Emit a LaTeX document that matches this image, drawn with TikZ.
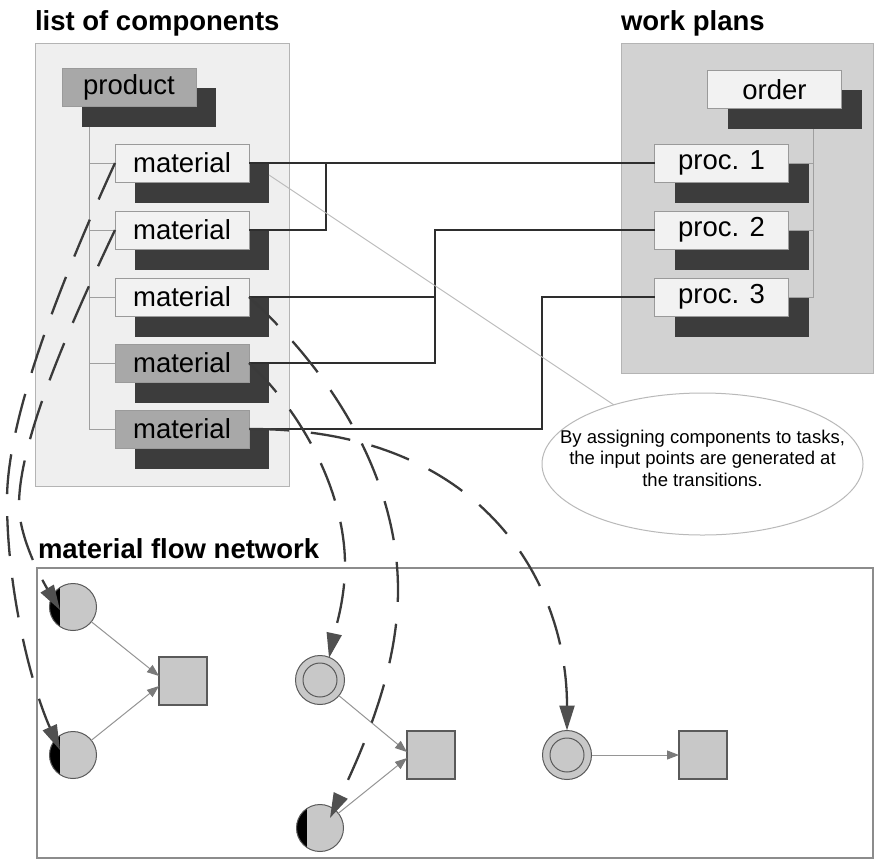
\documentclass[tikz,border=0pt]{standalone}
\usepackage{fontspec}
\setmainfont{Liberation Sans}
\usetikzlibrary{arrows.meta,shapes.geometric,calc}
\pgfdeclarelayer{bg}
\pgfsetlayers{bg,main}
\definecolor{panelA}{HTML}{EFEFEF}
\definecolor{panelB}{HTML}{D2D2D2}
\definecolor{panelline}{HTML}{B4B4B4}
\definecolor{boxlight}{HTML}{F2F2F2}
\definecolor{boxmid}{HTML}{A8A8A8}
\definecolor{boxline}{HTML}{9A9A9A}
\definecolor{shadowc}{HTML}{3C3C3C}
\definecolor{linkc}{HTML}{2E2E2E}
\definecolor{dashc}{HTML}{3A3A3A}
\definecolor{tipc}{HTML}{505050}
\definecolor{nodefill}{HTML}{C8C8C8}
\definecolor{nodeline}{HTML}{5A5A5A}
\definecolor{flowc}{HTML}{959595}
\definecolor{flowtip}{HTML}{7A7A7A}
\definecolor{netline}{HTML}{8C8C8C}
\begin{document}
\begin{tikzpicture}[x=1pt,y=-1pt,
  every node/.style={inner sep=0pt, outer sep=0pt},
  title/.style={font=\fontsize{27.5}{30}\selectfont\bfseries, anchor=base west},
  panel/.style={draw=panelline, line width=1pt},
  box/.style={draw=boxline, line width=0.8pt, minimum width=134pt, minimum height=38pt, font=\fontsize{27.5}{30}\selectfont},
  lightbox/.style={box, fill=boxlight},
  midbox/.style={box, fill=boxmid},
  shadowbox/.style={fill=shadowc, minimum width=134pt, minimum height=39pt},
  treeline/.style={draw=gray!75, line width=0.9pt},
  linkline/.style={draw=linkc, line width=2.5pt},
  flowarrow/.style={draw=flowc, line width=1pt, -{Triangle[length=12pt,width=9pt,color=flowtip]}},
  dasharrow/.style={draw=dashc, line width=2.3pt, dash pattern=on 40pt off 22pt, -{Triangle[length=25pt,width=15pt,color=tipc]}},
  place/.style={circle, minimum size=47pt, fill=nodefill, draw=nodeline, line width=1pt},
  halfblack/.style={place, path picture={\fill[black] ([xshift=-30pt,yshift=-30pt]path picture bounding box.center) rectangle ([xshift=-13pt,yshift=30pt]path picture bounding box.center);}},
  dblplace/.style={place, minimum size=49pt, path picture={\draw[nodeline, line width=1pt] (path picture bounding box.center) circle (17pt);}},
  trans/.style={rectangle, minimum size=48pt, fill=nodefill, draw=nodeline, line width=1.2pt},
]
\useasboundingbox (0,0) rectangle (874,863);
\begin{pgfonlayer}{bg}
\fill[white] (0,0) rectangle (874,863);
\draw[panel, fill=panelA] (35,43) rectangle (289,486);
\draw[panel, fill=panelB] (621,43) rectangle (873,373);
\end{pgfonlayer}

% titles
\node[title] (t1) at (35,30) {list of components};
\node[title] (t2) at (621,30) {work plans};
\node[title] (t3) at (38,558) {material flow network};

% list of components
\node[shadowbox] (sp) at (149,107) {};
\node[midbox] (prod) at (129,87) {product};
\node[shadowbox] (s1) at (202,183) {};
\node[lightbox] (m1) at (182,163) {material};
\node[shadowbox] (s2) at (202,250) {};
\node[lightbox] (m2) at (182,230) {material};
\node[shadowbox] (s3) at (202,317) {};
\node[lightbox] (m3) at (182,297) {material};
\node[shadowbox] (s4) at (202,383) {};
\node[midbox] (m4) at (182,363) {material};
\node[shadowbox] (s5) at (202,449) {};
\node[midbox] (m5) at (182,429) {material};

% work plans
\node[shadowbox] (so) at (794.5,109) {};
\node[lightbox] (order) at (774.5,89.5) {order};
\node[shadowbox] (sq1) at (741.5,183) {};
\node[lightbox] (p1) at (721.5,163) {proc. 1};
\node[shadowbox] (sq2) at (741.5,250) {};
\node[lightbox] (p2) at (721.5,230) {proc. 2};
\node[shadowbox] (sq3) at (741.5,317) {};
\node[lightbox] (p3) at (721.5,297) {proc. 3};

% tree lines
\begin{pgfonlayer}{bg}
\coordinate (tl) at (89,126);
\draw[treeline] (tl) |- (m5.west);
\foreach \m in {m1,m2,m3,m4} \draw[treeline] (tl |- \m.west) -- (\m.west);
\coordinate (tr) at (813,128);
\draw[treeline] (tr) |- (p3.east);
\foreach \p in {p1,p2} \draw[treeline] (tr |- \p.east) -- (\p.east);
\end{pgfonlayer}

% links
\coordinate (j1) at (326,163);
\coordinate (j2) at (435,297);
\coordinate (j3) at (542,297);
\draw[linkline] (m1.east) -- (p1.west);
\draw[linkline] (m2.east) -| (j1);
\draw[linkline] (m3.east) -- (j2);
\draw[linkline] (m4.east) -- (j2 |- m4.east) -- (j2 |- p2.west) -- (p2.west);
\draw[linkline] (m5.east) -- (j3 |- m5.east) -- (j3 |- p3.west) -- (p3.west);

% note
\node[ellipse, draw=gray!55, fill=white, line width=1pt, minimum width=321pt, minimum height=142pt] (ell) at (702.5,464) {};
\node[align=center, font=\fontsize{18.5}{21.5}\selectfont] (note) at (702.5,458) {By assigning components to tasks,\\the input points are generated at\\the transitions.};
\coordinate (c1) at (269,175);
\draw[draw=gray!55, line width=0.9pt] (c1) -- (ell);

% material flow network
\draw[draw=netline, line width=1.5pt, fill=white] (37,568) rectangle (873,858);
\node[halfblack] (A) at (73,607) {};
\node[halfblack] (B) at (73,755) {};
\node[trans] (S1) at (183,681) {};
\node[dblplace] (C) at (320,680) {};
\node[halfblack] (D) at (320,828) {};
\node[trans] (S2) at (431,755) {};
\node[dblplace] (E) at (567,755) {};
\node[trans] (S3) at (703,755) {};

\draw[flowarrow] (A) -- ([yshift=5pt]S1.west);
\draw[flowarrow] (B) -- ([yshift=-5pt]S1.west);
\draw[flowarrow] (C) -- ([yshift=3pt]S2.west);
\draw[flowarrow] (D) -- ([yshift=-3pt]S2.west);
\draw[flowarrow] (E) -- (S3);

% dashed assignment arrows
\draw[dasharrow] (m1.west) .. controls (57,290) and (7,420) .. (7,500) .. controls (7,595) and (33,690) .. ($(B)+(-13,-5)$);
\draw[dasharrow] (m2.west) .. controls (70,325) and (19,440) .. (19,505) .. controls (19,540) and (45,585) .. ($(A)+(-13,3)$);
\draw[dasharrow] (m3.east) .. controls (345,385) and (398,490) .. (398,590) .. controls (398,660) and (372,730) .. ($(D)+(10,-10)$);
\draw[dasharrow] (m4.east) .. controls (300,410) and (345,490) .. (345,565) .. controls (345,600) and (335,630) .. ($(C)+(9,-22)$);
\draw[dasharrow] (m5.east) .. controls (480,428) and (567,580) .. (E.north);
\end{tikzpicture}
\end{document}
